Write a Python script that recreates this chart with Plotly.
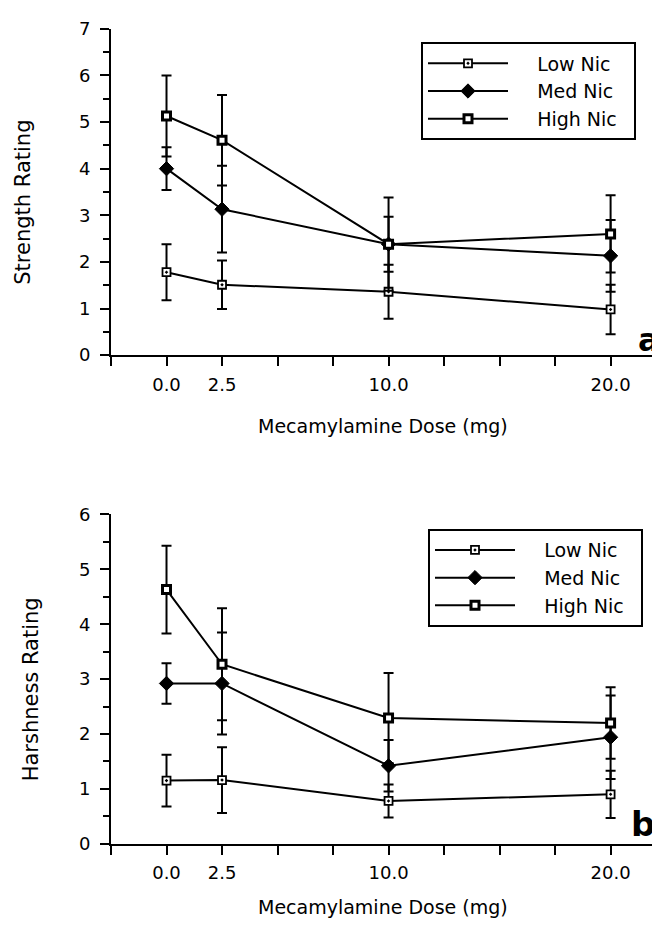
import plotly.graph_objects as go

# ---- data ----
doses = [0, 2.5, 10, 20]
series = ["Low Nic", "Med Nic", "High Nic"]

strength_low = [1.78, 1.51, 1.36, 0.98]
strength_low_err = [0.60, 0.52, 0.58, 0.53]
strength_med = [4.00, 3.13, 2.38, 2.13]
strength_med_err = [0.46, 0.93, 0.59, 0.77]
strength_high = [5.13, 4.61, 2.38, 2.60]
strength_high_err = [0.87, 0.97, 1.00, 0.83]

harsh_low = [1.15, 1.16, 0.78, 0.90]
harsh_low_err = [0.47, 0.60, 0.30, 0.43]
harsh_med = [2.92, 2.92, 1.42, 1.94]
harsh_med_err = [0.37, 0.93, 0.47, 0.76]
harsh_high = [4.63, 3.27, 2.29, 2.20]
harsh_high_err = [0.80, 1.02, 0.82, 0.65]

x_tickvals = [-2.5, 0, 2.5, 5, 7.5, 10, 12.5, 15, 17.5, 20]
x_ticktext = ["", "0.0", "2.5", "", "", "10.0", "", "", "", "20.0"]

x_title = "Mecamylamine Dose (mg)"
y_titles = ["Strength Rating", "Harshness Rating"]
panel_letters = ["a", "b"]

FONT = "DejaVu Sans, Liberation Sans, Arial, sans-serif"
NB_L = "\u00a0" * 4  # gap between legend sample and label
NB_R = "\u00a0" * 2  # room after label inside the legend box

marker_styles = {
    "Low Nic": dict(symbol="square-dot", size=8, color="white", line=dict(color="black", width=1.8)),
    "Med Nic": dict(symbol="diamond", size=11, color="black", line=dict(color="black", width=1)),
    "High Nic": dict(symbol="square", size=8, color="white", line=dict(color="black", width=3)),
}

fig = go.Figure()

def add_panel(vals, errs, xa, ya, legend):
    for name, y, e in zip(series, vals, errs):
        fig.add_trace(go.Scatter(
            x=doses, y=y, name=NB_L + name + NB_R, mode="lines+markers",
            xaxis=xa, yaxis=ya, legend=legend,
            line=dict(color="black", width=2),
            marker=marker_styles[name],
            error_y=dict(type="data", array=e, visible=True, color="black", thickness=2, width=5),
        ))

add_panel([strength_low, strength_med, strength_high],
          [strength_low_err, strength_med_err, strength_high_err], "x", "y", "legend")
add_panel([harsh_low, harsh_med, harsh_high],
          [harsh_low_err, harsh_med_err, harsh_high_err], "x2", "y2", "legend2")

# page offset of the figure (browser body margin)
OFF = 8
W, H = 660 - OFF, 928 - OFF

def px(x):
    return (x - OFF) / W

def py(y):
    return 1 - (y - OFF) / H

xdom = [px(111), px(655)]
xcommon = dict(range=[-2.5, 22.0], tickmode="array", tickvals=x_tickvals, ticktext=x_ticktext,
               ticks="outside", ticklen=9, tickwidth=2, tickcolor="black", ticklabelstandoff=3,
               showline=True, linecolor="black", linewidth=2, showgrid=False, zeroline=False,
               tickfont=dict(family=FONT, size=18, color="black"), domain=xdom, fixedrange=True)
ycommon = dict(ticks="outside", ticklen=9, tickwidth=2, tickcolor="black", dtick=1,
               ticklabelstandoff=6,
               showline=True, linecolor="black", linewidth=2, showgrid=False, zeroline=False,
               tickfont=dict(family=FONT, size=18, color="black"), fixedrange=True,
               minor=dict(dtick=0.5, ticks="outside", ticklen=6, tickwidth=2, tickcolor="black", showgrid=False))

legend_common = dict(xanchor="left", yanchor="top", bordercolor="black", borderwidth=2,
                     bgcolor="white", font=dict(family=FONT, size=19, color="black"),
                     itemwidth=80, tracegroupgap=0)

def ann(text, x, y, size, angle=0, bold=False):
    return dict(text=f"<b>{text}</b>" if bold else text, x=px(x), y=py(y),
                xref="paper", yref="paper", xanchor="center", yanchor="middle",
                showarrow=False, textangle=angle,
                font=dict(family=FONT, size=size, color="black"))

fig.update_layout(
    width=W, height=H, margin=dict(l=0, r=0, t=0, b=0),
    paper_bgcolor="white", plot_bgcolor="white",
    font=dict(family=FONT, color="black"),
    xaxis=dict(**xcommon, anchor="y"),
    yaxis=dict(**ycommon, range=[0, 7], domain=[py(352), py(18)], anchor="x"),
    xaxis2=dict(**xcommon, anchor="y2"),
    yaxis2=dict(**ycommon, range=[0, 6], domain=[py(852), py(515)], anchor="x2"),
    legend=dict(x=px(421), y=py(32), **legend_common),
    legend2=dict(x=px(428), y=py(530), **legend_common),
    showlegend=True,
    annotations=[
        ann(x_title, 383, 425, 19),
        ann(x_title, 383, 917, 19),
        ann(y_titles[0], 23, 196, 21, angle=-90),
        ann(y_titles[1], 31, 694, 21, angle=-90),
        ann(panel_letters[0], 649, 337, 32, bold=True),
        ann(panel_letters[1], 643, 832, 34, bold=True),
    ],
)

fig.write_html("out.html")
